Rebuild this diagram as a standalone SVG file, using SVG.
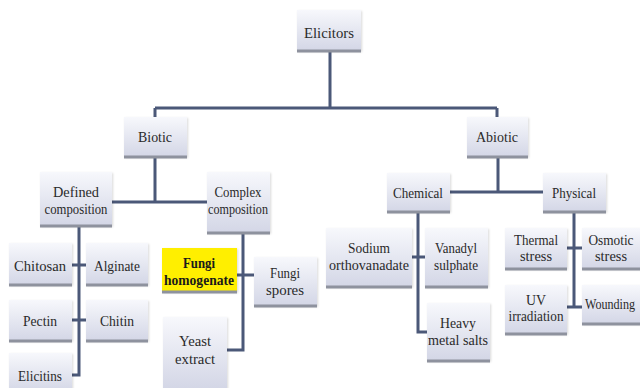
<svg xmlns="http://www.w3.org/2000/svg" width="640" height="388" viewBox="0 0 640 388">
<defs>
<linearGradient id="g" x1="0" y1="0" x2="0" y2="1">
<stop offset="0" stop-color="#f7f8fc"/>
<stop offset="1" stop-color="#d3d6e6"/>
</linearGradient>
<filter id="sh" x="-10%" y="-10%" width="130%" height="130%">
<feDropShadow dx="1" dy="1" stdDeviation="1" flood-color="#000" flood-opacity="0.15"/>
</filter>
</defs>
<style>
.box{fill:url(#g);filter:url(#sh)}
.hl{fill:#ffef00;filter:url(#sh)}
.bb{stroke:#8e929e;stroke-width:3}
.t{font-family:"Liberation Serif","Times New Roman",serif;font-size:15px;fill:#2a2a2a;text-anchor:middle}
.tb{font-family:"Liberation Serif","Times New Roman",serif;font-size:15px;fill:#1a1a1a;text-anchor:middle;font-weight:bold}
.c{fill:none;stroke:#4b5878;stroke-width:3}
</style>
<rect width="640" height="388" fill="#ffffff"/>
<g id="connectors">
<path class="c" d="M330 52V108M155 108H497M155 108V118M497 108V118"/>
<path class="c" d="M155 158V202M112 202H207"/>
<path class="c" d="M498 158V192M450 192H543"/>
<path class="c" d="M79 227V375H72M72 265H86M72 320H86"/>
<path class="c" d="M243 234V350H227M237 275H254"/>
<path class="c" d="M418 213V332H427M412 257H425"/>
<path class="c" d="M574 213V307H582M567 307H574M567 248H582"/>
</g>
<g id="elicitors"><rect class="box" x="297" y="10" width="64" height="41"/><line class="bb" x1="297" y1="51" x2="361" y2="51"/><text class="t" x="329" y="38" textLength="50" lengthAdjust="spacingAndGlyphs">Elicitors</text></g>
<g id="biotic"><rect class="box" x="124" y="117" width="63" height="40"/><line class="bb" x1="124" y1="157" x2="187" y2="157"/><text class="t" x="155" y="142" textLength="34" lengthAdjust="spacingAndGlyphs">Biotic</text></g>
<g id="abiotic"><rect class="box" x="467" y="117" width="61" height="40"/><line class="bb" x1="467" y1="157" x2="528" y2="157"/><text class="t" x="497" y="142" textLength="42" lengthAdjust="spacingAndGlyphs">Abiotic</text></g>
<g id="defined"><rect class="box" x="40" y="172" width="72" height="54"/><line class="bb" x1="40" y1="226" x2="112" y2="226"/><text class="t" x="76" y="197" textLength="46" lengthAdjust="spacingAndGlyphs">Defined</text><text class="t" x="76" y="214" textLength="63" lengthAdjust="spacingAndGlyphs">composition</text></g>
<g id="complex"><rect class="box" x="207" y="172" width="63" height="61"/><line class="bb" x1="207" y1="233" x2="270" y2="233"/><text class="t" x="238" y="197" textLength="47" lengthAdjust="spacingAndGlyphs">Complex</text><text class="t" x="238" y="214" textLength="60" lengthAdjust="spacingAndGlyphs">composition</text></g>
<g id="chemical"><rect class="box" x="387" y="173" width="63" height="39"/><line class="bb" x1="387" y1="212" x2="450" y2="212"/><text class="t" x="418" y="198" textLength="50" lengthAdjust="spacingAndGlyphs">Chemical</text></g>
<g id="physical"><rect class="box" x="543" y="173" width="63" height="39"/><line class="bb" x1="543" y1="212" x2="606" y2="212"/><text class="t" x="574" y="198" textLength="44" lengthAdjust="spacingAndGlyphs">Physical</text></g>
<g id="chitosan"><rect class="box" x="9" y="243" width="63" height="42"/><line class="bb" x1="9" y1="285" x2="72" y2="285"/><text class="t" x="40" y="271" textLength="52" lengthAdjust="spacingAndGlyphs">Chitosan</text></g>
<g id="alginate"><rect class="box" x="86" y="243" width="62" height="42"/><line class="bb" x1="86" y1="285" x2="148" y2="285"/><text class="t" x="117" y="271" textLength="46" lengthAdjust="spacingAndGlyphs">Alginate</text></g>
<g id="pectin"><rect class="box" x="9" y="300" width="63" height="41"/><line class="bb" x1="9" y1="341" x2="72" y2="341"/><text class="t" x="40" y="326" textLength="34" lengthAdjust="spacingAndGlyphs">Pectin</text></g>
<g id="chitin"><rect class="box" x="86" y="300" width="62" height="41"/><line class="bb" x1="86" y1="341" x2="148" y2="341"/><text class="t" x="117" y="326" textLength="34" lengthAdjust="spacingAndGlyphs">Chitin</text></g>
<g id="elicitins"><rect class="box" x="9" y="353" width="63" height="40"/><text class="t" x="40" y="381" textLength="44" lengthAdjust="spacingAndGlyphs">Elicitins</text></g>
<g id="fungi-homogenate"><rect class="hl" x="162" y="248" width="75" height="44"/><line class="bb" x1="162" y1="292" x2="237" y2="292"/><text class="tb" x="199" y="268" textLength="32" lengthAdjust="spacingAndGlyphs">Fungi</text><text class="tb" x="199" y="285" textLength="70" lengthAdjust="spacingAndGlyphs">homogenate</text></g>
<g id="fungi-spores"><rect class="box" x="254" y="257" width="63" height="49"/><line class="bb" x1="254" y1="306" x2="317" y2="306"/><text class="t" x="285" y="278" textLength="30" lengthAdjust="spacingAndGlyphs">Fungi</text><text class="t" x="285" y="295" textLength="38" lengthAdjust="spacingAndGlyphs">spores</text></g>
<g id="yeast"><rect class="box" x="163" y="317" width="64" height="72"/><text class="t" x="195" y="346" textLength="32" lengthAdjust="spacingAndGlyphs">Yeast</text><text class="t" x="195" y="364" textLength="40" lengthAdjust="spacingAndGlyphs">extract</text></g>
<g id="sodium"><rect class="box" x="326" y="228" width="86" height="59"/><line class="bb" x1="326" y1="287" x2="412" y2="287"/><text class="t" x="369" y="253" textLength="42" lengthAdjust="spacingAndGlyphs">Sodium</text><text class="t" x="369" y="270" textLength="80" lengthAdjust="spacingAndGlyphs">orthovanadate</text></g>
<g id="vanadyl"><rect class="box" x="425" y="228" width="63" height="59"/><line class="bb" x1="425" y1="287" x2="488" y2="287"/><text class="t" x="456" y="253" textLength="42" lengthAdjust="spacingAndGlyphs">Vanadyl</text><text class="t" x="456" y="270" textLength="44" lengthAdjust="spacingAndGlyphs">sulphate</text></g>
<g id="heavy"><rect class="box" x="427" y="303" width="63" height="58"/><line class="bb" x1="427" y1="361" x2="490" y2="361"/><text class="t" x="458" y="328" textLength="36" lengthAdjust="spacingAndGlyphs">Heavy</text><text class="t" x="458" y="345" textLength="60" lengthAdjust="spacingAndGlyphs">metal salts</text></g>
<g id="thermal"><rect class="box" x="505" y="228" width="62" height="41"/><line class="bb" x1="505" y1="269" x2="567" y2="269"/><text class="t" x="536" y="245" textLength="44" lengthAdjust="spacingAndGlyphs">Thermal</text><text class="t" x="536" y="261" textLength="32" lengthAdjust="spacingAndGlyphs">stress</text></g>
<g id="osmotic"><rect class="box" x="582" y="228" width="58" height="41"/><line class="bb" x1="582" y1="269" x2="640" y2="269"/><text class="t" x="611" y="245" textLength="45" lengthAdjust="spacingAndGlyphs">Osmotic</text><text class="t" x="611" y="261" textLength="32" lengthAdjust="spacingAndGlyphs">stress</text></g>
<g id="uv"><rect class="box" x="505" y="285" width="62" height="49"/><line class="bb" x1="505" y1="334" x2="567" y2="334"/><text class="t" x="536" y="305" textLength="20" lengthAdjust="spacingAndGlyphs">UV</text><text class="t" x="536" y="321" textLength="55" lengthAdjust="spacingAndGlyphs">irradiation</text></g>
<g id="wounding"><rect class="box" x="582" y="285" width="58" height="39"/><line class="bb" x1="582" y1="324" x2="640" y2="324"/><text class="t" x="610" y="309" style="font-size:14px" textLength="50" lengthAdjust="spacingAndGlyphs">Wounding</text></g>
</svg>
